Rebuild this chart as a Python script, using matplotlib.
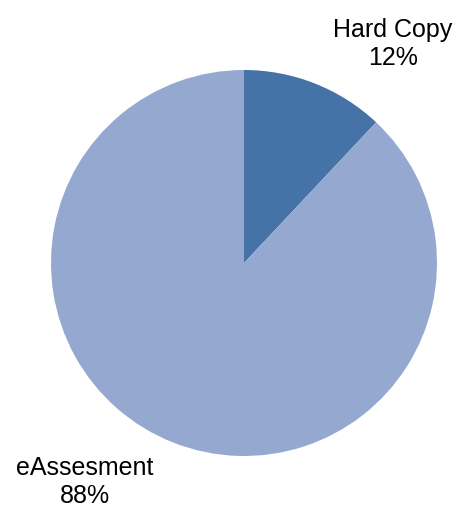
import matplotlib.pyplot as plt

labels = ['Hard Copy', 'eAssesment']
values = [12, 88]
colors = ['#4573A7', '#95A9D0']


def main():
    plt.rcParams['font.family'] = ['Liberation Sans', 'DejaVu Sans']
    fig = plt.figure(figsize=(4.6, 5.09), dpi=100)
    ax = fig.add_axes([0, 0, 1, 1])

    ax.pie(values, colors=colors, startangle=90, counterclock=False,
           center=(244, 246), radius=193, frame=True)
    ax.set_xlim(0, 460)
    ax.set_ylim(0, 509)
    ax.set_aspect('equal')
    ax.axis('off')

    total = sum(values)
    pos = [(393, 465), (85, 27)]
    for lab, v, (x, y) in zip(labels, values, pos):
        ax.text(x, y, '%s\n%d%%' % (lab, round(v * 100 / total)),
                ha='center', va='center', fontsize=18, color='black')

    fig.savefig('out.png', dpi=100)


if __name__ == '__main__':
    main()
